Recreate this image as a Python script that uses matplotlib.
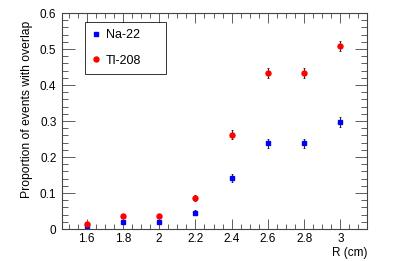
import numpy as np
import matplotlib.pyplot as plt
from matplotlib.lines import Line2D
from matplotlib.ticker import MultipleLocator

plt.rcParams['font.family'] = ['Liberation Sans', 'DejaVu Sans']

# radius values (cm)
radius = [1.6, 1.8, 2.0, 2.2, 2.4, 2.6, 2.8, 3.0]
xlabels = ['1.6', '1.8', '2', '2.2', '2.4', '2.6', '2.8', '3']

# proportion of events with overlap
na22 = [0.007, 0.020, 0.020, 0.045, 0.141, 0.238, 0.238, 0.297]
na22_err = [0.003, 0.005, 0.005, 0.007, 0.011, 0.013, 0.013, 0.015]
tl208 = [0.013, 0.037, 0.037, 0.087, 0.262, 0.433, 0.433, 0.508]
tl208_err = [0.004, 0.006, 0.006, 0.008, 0.012, 0.013, 0.013, 0.014]

fig = plt.figure(figsize=(4.07, 2.61), dpi=100)
ax = fig.add_axes([62 / 407, 1 - 229 / 261, 305 / 407, 216 / 261])

ax.errorbar(radius, na22, yerr=na22_err, fmt='s', color='blue', ms=2.8,
            ecolor='black', elinewidth=0.6, capsize=0.8, capthick=0.5)
ax.errorbar(radius, tl208, yerr=tl208_err, fmt='o', color='red', ms=3.6,
            ecolor='black', elinewidth=0.6, capsize=0.8, capthick=0.5)

ax.set_xlim(1.464, 3.147)
ax.set_ylim(0, 0.6)
ax.xaxis.set_minor_locator(MultipleLocator(0.05))
ax.yaxis.set_minor_locator(MultipleLocator(0.02))
ax.set_xticks(radius)
ax.set_xticklabels(xlabels)
ax.set_yticks([0, 0.1, 0.2, 0.3, 0.4, 0.5, 0.6])
ax.set_yticklabels(['0', '0.1', '0.2', '0.3', '0.4', '0.5', '0.6'])

ax.tick_params(which='both', direction='in', top=True, right=True,
               labelsize=8.5, width=0.6, color='#444444')
ax.tick_params(axis='x', which='major', length=7, pad=3)
ax.tick_params(axis='x', which='minor', length=3.5)
ax.tick_params(axis='y', which='major', length=9, pad=4)
ax.tick_params(axis='y', which='minor', length=4.5)
for s in ax.spines.values():
    s.set_linewidth(0.8)
    s.set_color('#444444')

ax.set_xlabel('R (cm)', fontsize=8.5, loc='right', labelpad=1)
ax.set_ylabel('Proportion of events with overlap', fontsize=8.7, loc='top')
ax.yaxis.set_label_coords(-0.094, 0.966)

handles = [
    Line2D([], [], ls='none', marker='s', color='blue', ms=2.8),
    Line2D([], [], ls='none', marker='o', color='red', ms=3.6),
]
leg = ax.legend(handles, ['Na-22', 'Tl-208'], loc='upper left',
                bbox_to_anchor=(0.076, 0.721, 0.266, 0.236), mode='expand',
                fontsize=9, frameon=True, fancybox=False, borderpad=0.56,
                labelspacing=1.08, handletextpad=0.52, handlelength=0.6,
                borderaxespad=0)
leg.get_frame().set_edgecolor('black')
leg.get_frame().set_linewidth(0.7)

fig.savefig('out.png', dpi=100)
